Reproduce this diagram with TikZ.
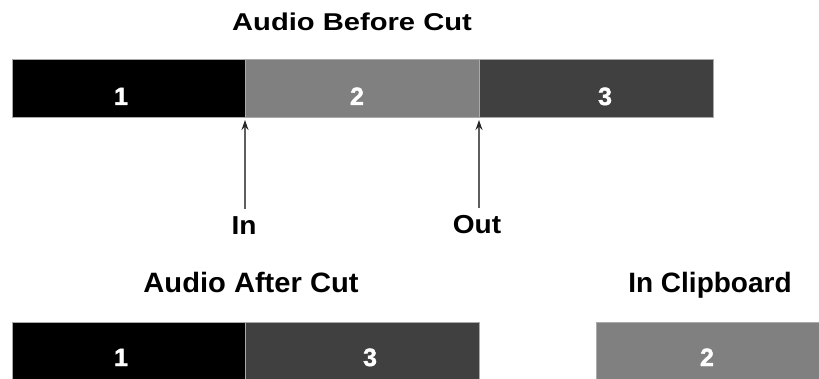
\documentclass[tikz,border=0pt]{standalone}
\usepackage{fontspec}
\setmainfont{Liberation Sans}
\newfontfamily\digitfont[FakeBold=1.6]{Liberation Sans Bold}
\usetikzlibrary{arrows.meta}
\definecolor{segA}{RGB}{0,0,0}
\definecolor{segB}{RGB}{128,128,128}
\definecolor{segC}{RGB}{64,64,64}
\definecolor{edgeC}{RGB}{170,170,170}
\definecolor{arrowC}{RGB}{95,95,95}
\definecolor{tipC}{RGB}{40,40,40}
\tikzset{
  seg/.style={draw=edgeC, line width=0.5pt, minimum height=58pt, inner sep=0pt, anchor=north west},
  numlbl/.style={text=white, font=\fontsize{25}{28}\digitfont, anchor=base, inner sep=0pt},
  titlelbl/.style={text=black, anchor=base, inner sep=0pt},
  marklbl/.style={text=black, font=\fontsize{26}{30}\selectfont\bfseries, anchor=base, inner sep=2pt},
  cutarrow/.style={draw=arrowC, line width=1.4pt, -{Stealth[length=10pt,width=7pt,color=tipC]}, shorten <=6pt}
}
\begin{document}
\begin{tikzpicture}[x=1pt,y=-1pt]
\useasboundingbox (0,0) rectangle (819,379);
% titles
\node[titlelbl, font=\fontsize{24.3}{28}\selectfont\bfseries] (t1) at (352,31) {\scalebox{1.2}[1]{Audio Before Cut}};
\node[titlelbl, font=\fontsize{28}{32}\selectfont\bfseries] (t2) at (251,293) {\scalebox{1.04}[1]{Audio After Cut}};
\node[titlelbl, font=\fontsize{28}{32}\selectfont\bfseries] (t3) at (710,293) {In Clipboard};
% top bar
\node[seg, fill=segA, minimum width=233pt] (a1) at (12,59) {};
\node[seg, fill=segB, minimum width=234pt] (a2) at (245,59) {};
\node[seg, fill=segC, minimum width=234pt] (a3) at (479,59) {};
\node[numlbl] (n1) at (121,105) {1};
\node[numlbl] (n2) at (357,105) {2};
\node[numlbl] (n3) at (605,105) {3};
% bottom bars
\node[seg, fill=segA, minimum width=233pt] (b1) at (12,322) {};
\node[seg, fill=segC, minimum width=234pt] (b3) at (245,322) {};
\node[seg, fill=segB, minimum width=224pt] (c2) at (596,322) {};
\node[numlbl] (m1) at (121,366) {1};
\node[numlbl] (m3) at (370,366) {3};
\node[numlbl] (m2) at (707,366) {2};
% in / out markers
\node[marklbl] (inl) at (244,235) {\scalebox{1.08}[1]{In}};
\node[marklbl] (outl) at (477,234) {\scalebox{1.08}[1]{Out}};
\coordinate (inTip) at (245,120);
\coordinate (outTip) at (479,120);
\draw[cutarrow] (inl.north -| inTip) -- (inTip);
\draw[cutarrow] (outl.north -| outTip) -- (outTip);
\end{tikzpicture}
\end{document}
